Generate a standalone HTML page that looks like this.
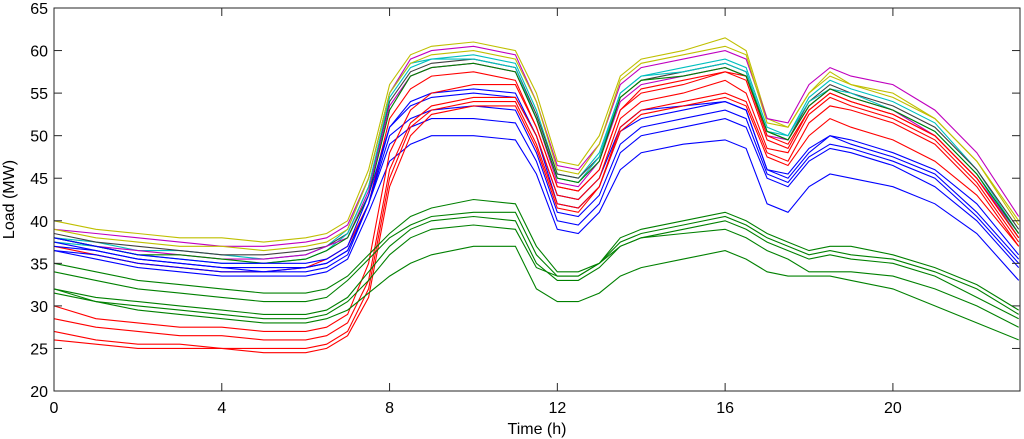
<!DOCTYPE html>
<html><head><meta charset="utf-8">
<style>
html,body{margin:0;padding:0;background:#fff;}
svg{display:block;font-family:"Liberation Sans",Arial,sans-serif;}
</style></head>
<body>
<svg id="chart" width="1024" height="439" viewBox="0 0 1024 439" xmlns="http://www.w3.org/2000/svg">
<rect x="0" y="0" width="1024" height="439" fill="#fff"/>
<g id="series"></g>
<g id="axes"></g>
</svg>
<script>
const times = [0,1,2,3,4,5,6,6.5,7,7.5,8,8.5,9,10,11,11.5,12,12.5,13,13.5,14,15,16,16.5,17,17.5,18,18.5,19,20,21,22,23];
const xTicks = [0,4,8,12,16,20];
const yTicks = [20,25,30,35,40,45,50,55,60,65];
const seriesColors = ["#bfbf00","#bf00bf","#00bfbf","#404040","#00bfbf","#bf00bf","#bfbf00","#ff0000","#008000","#0000ff",
  "#0000ff","#0000ff","#0000ff","#0000ff","#ff0000","#ff0000","#ff0000","#ff0000","#008000","#008000","#008000","#008000","#008000"];
const L1=[40,39,38.5,38,38,37.5,38,38.5,40,46,56,59.5,60.5,61,60,55,47,46.5,50,57,59,60,61.5,60,52,51,55,57.5,56,55,52,47,40];
const L2=[39,38.5,38,37.5,37,37,37.5,38,39.5,45,55,59,60,60.5,59.5,54,46.5,46,49,56,58,59,60,59,52,51.5,56,58,57,56,53,48,40.5];
const L3=[38,37.5,36.5,36.5,36,35.5,36,37,39,45,55,58.5,59,59.5,58.5,53,45.5,45,48,55,57,58,59,58,51,50,54.5,56.5,55.5,54,51.5,46,38.5];
const L4=[38.5,37.5,37,36.5,36,36,36.5,37,38.5,44,54,57.5,58.5,59,58,52.5,45.5,45,47.5,54.5,56.5,57.5,58.5,57.5,50.5,49.5,54,56,55,53.5,51,46,39];
const L5=[37.5,37,36,35.5,35,35,35.5,36.5,38.5,44,54.5,58,59,59,58,52,45,44.5,47.5,55,57,57.5,58.5,57.5,50.5,50,54,55.5,55,53,50.5,45.5,38];
const L6=[38,37,36.5,36,35.5,35.5,36,37,38,43.5,53.5,57,58,58.5,57.5,52,44.5,44,47,54,56,57,58,57,50,49.5,53.5,55.5,54.5,53,50,45,38.5];
const L7=[39,38,37.5,37,37,36.5,37,37.5,39,45,55,58.5,59.5,60,59,54,46,45.5,49,56.5,58.5,59.5,60.5,59.5,51.5,51,55,57,56,54.5,52,47,39.5];
const L8=[37,36,35,34.5,34,34,34.5,35.5,37,42,52,55.5,57,57.5,56.5,51,44,43.5,46,53,55.5,56.5,57.5,57,50,49,53,55,54,52.5,50,45,38];
const L9=[38,37,36,36,35.5,35,35.5,36.5,38,43,53,57,58,58.5,57.5,52,45,44.5,47,54.5,56.5,57,58,57,50.5,49.5,53.5,55.5,54.5,53,50.5,45.5,38.5];
const L10=[36.5,36,35,34.5,34,34,34.5,35,36.5,42,51,54,55,55.5,55,50,43,42.5,45,51,53,53.5,54,53,46,45.5,48.5,50,49.5,48,46,42,36];
const B1=[38,37,36,35.5,35,35,35,35.5,37,43,51,53.5,54.5,55,54.5,50,42,41.5,44,50.5,52,53,54,53,46,45,48,50,49,47.5,45.5,41,35.5];
const B2=[37.5,36.5,35.5,35,34.5,34,34,34.5,36,42,49,51,52,52,51.5,47,40,39.5,42,48,50,51,52,51,45,44,47,48.5,48,46.5,44,40,34.5];
const B3=[36.5,35.5,34.5,34,33.5,33.5,33.5,34,35.5,41,47,49,50,50,49.5,45.5,39,38.5,41,46,48,49,49.5,48.5,42,41,44,45.5,45,44,42,38.5,33];
const B4=[37,36.5,35.5,35,34.5,34.5,34.5,35,36.5,42,50,52,53,53.5,53,48,41,40.5,43,49,51,52,53,52,45.5,44.5,47.5,49,48.5,47,45,40.5,35];
const R1=[30,28.5,28,27.5,27.5,27,27,27.5,29,35,48,53,55,56,56,51,44,43.5,46,53,55,56,57.5,56.5,49.5,48.5,53,55,54,52.5,50,45,38];
const R2=[28.5,27.5,27,26.5,26.5,26,26,26.5,28,33,46,51.5,53.5,54.5,54.5,50,43,42.5,45,52,54,55,56.5,55,48.5,48,52.5,54.5,53.5,52,49.5,44.5,37.5];
const R3=[27,26,25.5,25.5,25,25,25,25.5,27,32,45,51,53,54,54,49,42,41.5,44,51,53,54,55,54,48,47,51.5,53.5,53,51.5,49,44,37];
const R4=[26,25.5,25,25,25,24.5,24.5,25,26.5,31,44,50,52.5,53.5,53.5,48.5,41.5,41,44,50.5,52.5,53.5,54.5,53.5,47.5,46.5,50,52,51,49.5,47,43,37];
const G1=[35,34,33,32.5,32,31.5,31.5,32,33.5,36,38.5,40.5,41.5,42.5,42,37,34,34,35,38,39,40,41,40,38.5,37.5,36.5,37,37,36,34.5,32.5,29.5];
const G2=[34,33,32,31.5,31,30.5,30.5,31,33,35.5,38,39.5,40.5,41,41,36,33.5,33.5,35,37.5,38.5,39.5,40.5,39.5,38,37,36,36.5,36,35.5,34,32,29];
const G3=[32,31,30.5,30,29.5,29,29,29.5,31,34,37,39,40,40.5,40,35,33,33,34.5,37,38,39,40,39,37.5,36.5,35.5,36,35.5,35,33.5,31,28.5];
const G4=[31.5,30.5,30,29.5,29,28.5,28.5,29,30.5,33,36,38,39,39.5,39,34.5,33.5,33.5,35,37,38,38.5,39,38,36.5,35.5,34,34,34,33.5,32,30,27.5];
const G5=[32,30.5,29.5,29,28.5,28,28,28.5,29.5,31.5,33.5,35,36,37,37,32,30.5,30.5,31.5,33.5,34.5,35.5,36.5,35.5,34,33.5,33.5,33.5,33,32,30,28,26];
const seriesList=[L1,L2,L3,L4,L5,L6,L7,L8,L9,L10,B1,B2,B3,B4,R1,R2,R3,R4,G1,G2,G3,G4,G5];

const X0=54,X1=1020,Y0=8,Y1=391,XMAX=23.03;
function xs(v){return X0+(v/XMAX)*(X1-X0);}
function ys(v){return Y1-(v-20)/45*(Y1-Y0);}
const NS="http://www.w3.org/2000/svg";
const sg=document.getElementById('series');
seriesList.forEach((arr,i)=>{
  const p=document.createElementNS(NS,'polyline');
  p.setAttribute('points',arr.map((v,j)=>xs(times[j]).toFixed(1)+','+ys(v).toFixed(1)).join(' '));
  p.setAttribute('fill','none');
  p.setAttribute('stroke',seriesColors[i]);
  p.setAttribute('stroke-width','1.1');
  
  
  sg.appendChild(p);
});
const ag=document.getElementById('axes');
const box=document.createElementNS(NS,'rect');
box.setAttribute('x',X0);box.setAttribute('y',Y0);box.setAttribute('width',X1-X0);box.setAttribute('height',Y1-Y0);
box.setAttribute('fill','none');box.setAttribute('stroke','#262626');box.setAttribute('stroke-width','1');


ag.appendChild(box);
function line(x1,y1,x2,y2){const l=document.createElementNS(NS,'line');l.setAttribute('x1',x1);l.setAttribute('y1',y1);l.setAttribute('x2',x2);l.setAttribute('y2',y2);l.setAttribute('stroke','#262626');
ag.appendChild(l);}
function text(x,y,s,anchor,name){const t=document.createElementNS(NS,'text');t.setAttribute('x',x);t.setAttribute('y',y);t.setAttribute('text-anchor',anchor);t.setAttribute('font-size','16');t.setAttribute('fill','#000');t.textContent=s;
ag.appendChild(t);return t;}
xTicks.forEach(v=>{const x=xs(v);line(x,Y1,x,Y1-8);line(x,Y0,x,Y0+8);text(x,Y1+22,String(v),'middle','x-tick-label');});
yTicks.forEach(v=>{const y=ys(v);line(X0,y,X0+8,y);line(X1,y,X1-8,y);text(X0-6,y+6,String(v),'end','y-tick-label');});
text((X0+X1)/2,434,'Time (h)','middle','x-axis-title');
const yt=text(0,0,'Load (MW)','middle','y-axis-title');
yt.setAttribute('transform','translate(14,'+((Y0+Y1)/2)+') rotate(-90)');
</script>
</body></html>
